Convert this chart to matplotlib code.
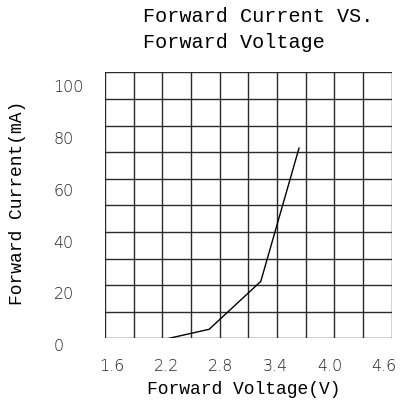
"""
Forward current vs forward voltage curve on a square grid.
"""

import numpy as np
import matplotlib
matplotlib.use("Agg")
import matplotlib.pyplot as plt
from matplotlib.transforms import ScaledTranslation

# curve
voltage = [2.27, 2.69, 3.23, 3.63]
current = [0.0, 3.4, 21.4, 71.5]

x_ticks = [1.6, 2.2, 2.8, 3.4, 4.0, 4.6]
x_labels = ["1.6", "2.2", "2.8", "3.4", "4.0", "4.6"]
y_ticks = [0, 20, 40, 60, 80, 100]
y_labels = ["0", "20", "40", "60", "80", "100"]

MONO = "Liberation Mono"
NUM = "DejaVu Sans"

fig = plt.figure(figsize=(4.05, 4.08), dpi=100)
ax = fig.add_axes([0.2593, 0.1708, 0.7079, 0.652])

ax.set_xlim(1.6, 4.6)
ax.set_ylim(0, 100)

# grid every 0.3 V and 10 mA
for xv in np.linspace(1.6, 4.6, 11):
    ax.axvline(xv, color="#2a2a2a", linewidth=1.0, zorder=1)
for yv in np.linspace(0, 100, 11):
    ax.axhline(yv, color="#2a2a2a", linewidth=1.0, zorder=1)

ax.plot(voltage, current, color="black", linewidth=1.0, zorder=3)

for s in ax.spines.values():
    s.set_visible(False)

ax.set_xticks(x_ticks)
ax.set_xticklabels(x_labels, fontfamily=NUM, fontsize=11.5, fontweight="light")
ax.set_yticks(y_ticks)
ax.set_yticklabels(y_labels, fontfamily=NUM, fontsize=11.5, fontweight="light",
                   ha="left")
ax.tick_params(length=0, colors="#222222")
ax.tick_params(axis="x", pad=15)
ax.tick_params(axis="y", pad=37)

# the printed labels drift slightly off their grid lines
for lab, v in zip(ax.get_yticklabels(), y_ticks):
    dy = -(6.7 + 0.075 * v) / 100
    lab.set_transform(lab.get_transform() + ScaledTranslation(0, dy, fig.dpi_scale_trans))
for lab, v in zip(ax.get_xticklabels(), x_ticks):
    dx = (7 - 14.7 * (v - 1.6) / 3) / 100
    lab.set_transform(lab.get_transform() + ScaledTranslation(dx, 0, fig.dpi_scale_trans))

fig.text(143 / 405, 1 - 17 / 408, "Forward Current VS.", fontfamily=MONO,
         fontsize=14.5, ha="left", va="center")
fig.text(143 / 405, 1 - 43 / 408, "Forward Voltage", fontfamily=MONO,
         fontsize=14.5, ha="left", va="center")
fig.text(244 / 405, 1 - 390 / 408, "Forward Voltage(V)", fontfamily=MONO,
         fontsize=13, ha="center", va="center")
fig.text(18 / 405, 1 - 203 / 408, "Forward Current(mA)", fontfamily=MONO,
         fontsize=13, ha="center", va="center", rotation=90)

fig.savefig("out.png", dpi=100)
